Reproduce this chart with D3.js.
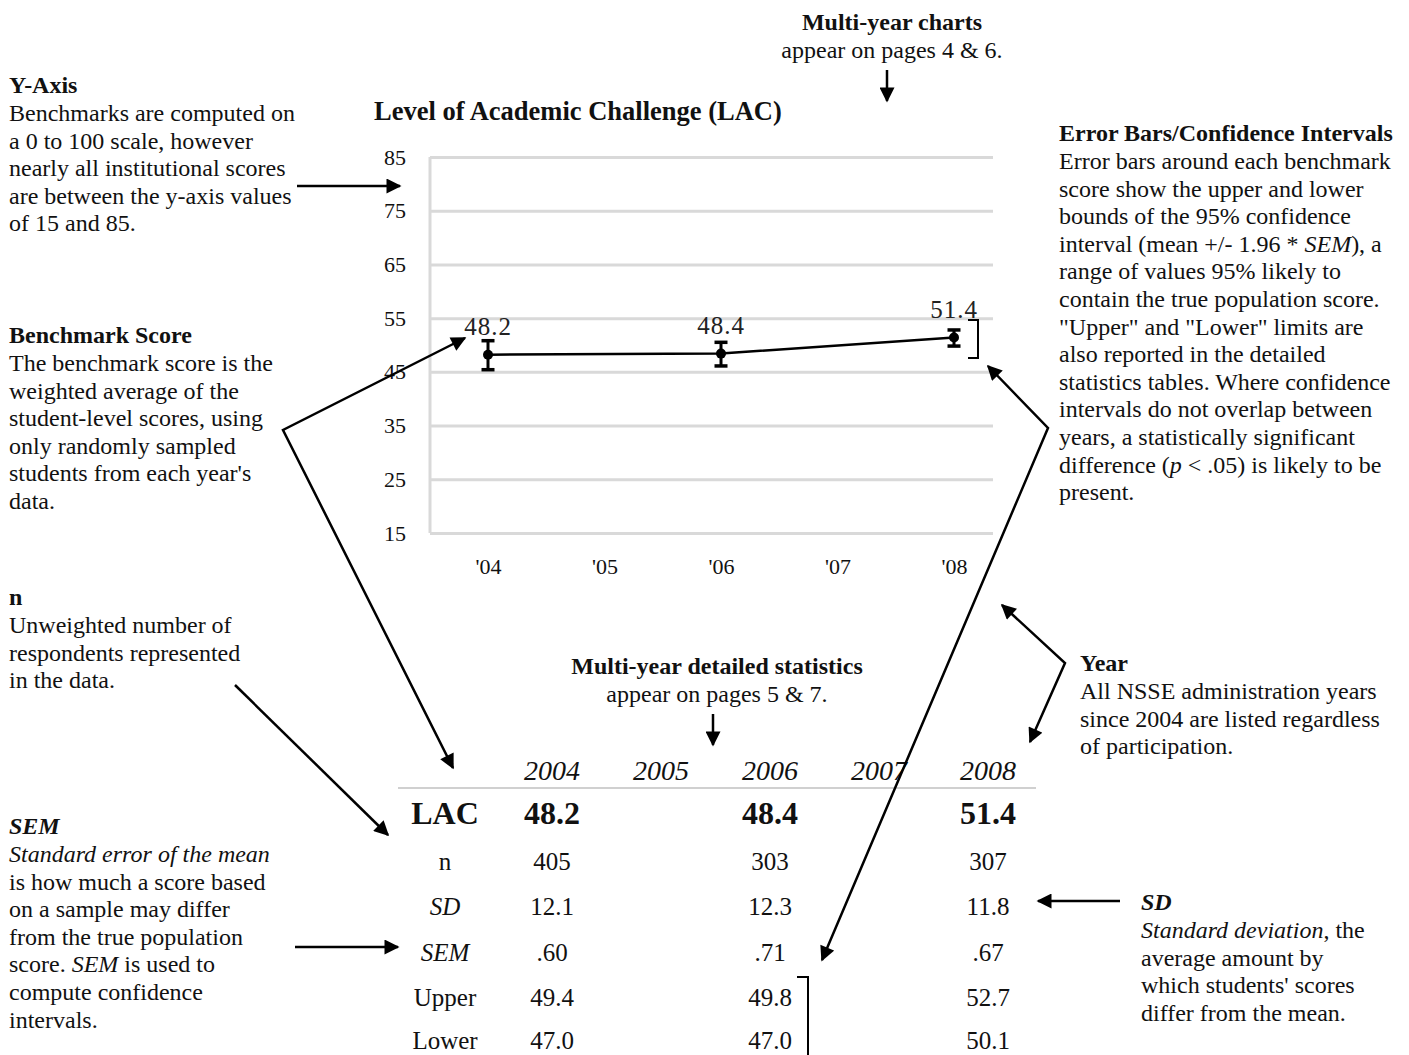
<!DOCTYPE html>
<html>
<head>
<meta charset="utf-8">
<script src="https://cdn.jsdelivr.net/npm/d3@7"></script>
<style>
    body { margin: 0; background: #fff; }
    svg { font-family: "Liberation Serif", "Times New Roman", serif; }
</style>
</head>
<body>
<div id="chart"></div>
<script>
// chart data
var chartYears = ["'04", "'05", "'06", "'07", "'08"];
var scoreYears = ["'04", "'06", "'08"];
var scores = [48.2, 48.4, 51.4];
var barUpper = [50.8, 50.5, 52.8];
var barLower = [45.4, 46.1, 49.8];
var yTicks = [15, 25, 35, 45, 55, 65, 75, 85];

// detailed statistics table
var tableYears = ["2004", "2005", "2006", "2007", "2008"];
var lacRow = [48.2, null, 48.4, null, 51.4];
var nRow = [405, null, 303, null, 307];
var sdRow = [12.1, null, 12.3, null, 11.8];
var semRow = [0.60, null, 0.71, null, 0.67];
var upperRow = [49.4, null, 49.8, null, 52.7];
var lowerRow = [47.0, null, 47.0, null, 50.1];

var W = 1409, H = 1055;
var svg = d3.select("#chart").append("svg")
    .attr("width", W)
    .attr("height", H);

var defs = svg.append("defs");
defs.append("marker")
    .attr("id", "arrow")
    .attr("viewBox", "0 0 10 10")
    .attr("refX", 9)
    .attr("refY", 5)
    .attr("markerUnits", "userSpaceOnUse")
    .attr("markerWidth", 17)
    .attr("markerHeight", 15)
    .attr("orient", "auto")
    .append("path")
    .attr("d", "M0,0 L10,5 L0,10 z")
    .attr("fill", "#000");
defs.append("marker")
    .attr("id", "arrowStart")
    .attr("viewBox", "0 0 10 10")
    .attr("refX", 1)
    .attr("refY", 5)
    .attr("markerUnits", "userSpaceOnUse")
    .attr("markerWidth", 17)
    .attr("markerHeight", 15)
    .attr("orient", "auto")
    .append("path")
    .attr("d", "M10,0 L0,5 L10,10 z")
    .attr("fill", "#000");

// ---- the chart ----
var margin = {top: 157, left: 430};
var width = 563, height = 376;
var g = svg.append("g").attr("transform", "translate(" + margin.left + "," + margin.top + ")");

g.append("text")
    .attr("x", -56)
    .attr("y", -46)
    .attr("dy", "0.35em")
    .attr("font-size", 26.5)
    .attr("font-weight", "bold")
    .attr("fill", "#111")
    .text("Level of Academic Challenge (LAC)");

var y = d3.scaleLinear().domain([15, 85]).range([height, 0]);
var x = d3.scalePoint().domain(chartYears).range([58, 524]);

var yAxis = g.append("g")
    .call(d3.axisLeft(y).tickValues(yTicks).tickSize(-width).tickPadding(24));
yAxis.select(".domain").remove();
yAxis.selectAll("line").attr("stroke", "#d9d9d9").attr("stroke-width", 3);
yAxis.selectAll("text").attr("font-size", 22).attr("font-family", "Liberation Serif").attr("fill", "#111");

g.append("line")
    .attr("x1", 0).attr("x2", 0)
    .attr("y1", 0).attr("y2", height)
    .attr("stroke", "#d9d9d9").attr("stroke-width", 3);

var xAxis = g.append("g")
    .attr("transform", "translate(0," + height + ")")
    .call(d3.axisBottom(x).tickSize(0).tickPadding(25));
xAxis.select(".domain").remove();
xAxis.selectAll("text").attr("font-size", 22).attr("font-family", "Liberation Serif").attr("fill", "#111");

var pts = scoreYears.map(function(d, i) {
    return {year: d, value: scores[i], hi: barUpper[i], lo: barLower[i]};
});

g.append("path")
    .datum(pts)
    .attr("fill", "none")
    .attr("stroke", "#000")
    .attr("stroke-width", 2.5)
    .attr("d", d3.line()
        .x(function(d) { return x(d.year); })
        .y(function(d) { return y(d.value); }));

var eb = g.selectAll(".errbar").data(pts).enter().append("g").attr("class", "errbar");
eb.append("line")
    .attr("x1", function(d) { return x(d.year); })
    .attr("x2", function(d) { return x(d.year); })
    .attr("y1", function(d) { return y(d.hi); })
    .attr("y2", function(d) { return y(d.lo); })
    .attr("stroke", "#000").attr("stroke-width", 3);
["hi", "lo"].forEach(function(k) {
    eb.append("line")
        .attr("x1", function(d) { return x(d.year) - 6.5; })
        .attr("x2", function(d) { return x(d.year) + 6.5; })
        .attr("y1", function(d) { return y(d[k]); })
        .attr("y2", function(d) { return y(d[k]); })
        .attr("stroke", "#000").attr("stroke-width", 3.5);
});
eb.append("circle")
    .attr("cx", function(d) { return x(d.year); })
    .attr("cy", function(d) { return y(d.value); })
    .attr("r", 5)
    .attr("fill", "#000");
eb.append("text")
    .attr("x", function(d) { return x(d.year); })
    .attr("y", function(d) { return y(d.value) - 28; })
    .attr("dy", "0.35em")
    .attr("text-anchor", "middle")
    .attr("font-size", 25)
    .attr("letter-spacing", 1)
    .attr("fill", "#222")
    .text(function(d) { return d3.format(".1f")(d.value); });

// bracket beside the '08 error bar
var last = pts[pts.length - 1];
var bx = x(last.year) + 14;
g.append("path")
    .attr("d", "M" + bx + "," + (y(last.hi) - 10) + " H" + (bx + 10) + " V" + (y(last.lo) + 12) + " H" + bx)
    .attr("fill", "none").attr("stroke", "#000").attr("stroke-width", 2);

// ---- the table ----
var tx = d3.scalePoint().domain(tableYears).range([552, 988]);
var labelX = 445;

svg.append("g").selectAll("text")
    .data(tableYears).enter().append("text")
    .attr("x", function(d) { return tx(d); })
    .attr("y", 770)
    .attr("dy", "0.35em")
    .attr("text-anchor", "middle")
    .attr("font-size", 28)
    .attr("font-style", "italic")
    .attr("fill", "#111")
    .text(function(d) { return d; });

svg.append("line")
    .attr("x1", 398).attr("x2", 1036)
    .attr("y1", 788).attr("y2", 788)
    .attr("stroke", "#d0d0d0").attr("stroke-width", 2);

var noZero = function(v) { return d3.format(".2f")(v).replace(/^0/, ""); };
var rows = [
    {label: "LAC", values: lacRow, fmt: d3.format(".1f"), y: 813, size: 32, bold: true},
    {label: "n", values: nRow, fmt: d3.format("d"), y: 861, size: 25},
    {label: "SD", values: sdRow, fmt: d3.format(".1f"), y: 906, size: 25, italic: true},
    {label: "SEM", values: semRow, fmt: noZero, y: 952, size: 25, italic: true},
    {label: "Upper", values: upperRow, fmt: d3.format(".1f"), y: 997, size: 25},
    {label: "Lower", values: lowerRow, fmt: d3.format(".1f"), y: 1040, size: 25}
];

rows.forEach(function(r) {
    var row = svg.append("g")
        .attr("font-size", r.size)
        .attr("font-weight", r.bold ? "bold" : "normal")
        .attr("fill", "#111");
    row.append("text")
        .attr("x", labelX).attr("y", r.y).attr("dy", "0.35em")
        .attr("text-anchor", "middle")
        .attr("font-style", r.italic ? "italic" : "normal")
        .text(r.label);
    row.selectAll(".v")
        .data(r.values.map(function(v, i) { return {v: v, year: tableYears[i]}; })
            .filter(function(d) { return d.v !== null; }))
        .enter().append("text")
        .attr("x", function(d) { return tx(d.year); })
        .attr("y", r.y).attr("dy", "0.35em")
        .attr("text-anchor", "middle")
        .text(function(d) { return r.fmt(d.v); });
});

// bracket beside the 2006 upper / lower values
svg.append("path")
    .attr("d", "M797,977 H808 V1060")
    .attr("fill", "none").attr("stroke", "#000").attr("stroke-width", 2);

// ---- annotation texts ----
// "_" toggles italic, a leading "#" makes the line bold
function textBlock(x, y, lines, anchor) {
    var lh = 27.6;
    lines.forEach(function(line, i) {
        var bold = line.charAt(0) === "#";
        if (bold) line = line.slice(1);
        var t = svg.append("text")
            .attr("x", x)
            .attr("y", y + i * lh)
            .attr("dy", "0.35em")
            .attr("font-size", 24)
            .attr("font-weight", bold ? "bold" : "normal")
            .attr("text-anchor", anchor || "start")
            .attr("fill", "#111");
        line.split("_").forEach(function(part, j) {
            if (part === "") return;
            t.append("tspan")
                .attr("font-style", j % 2 ? "italic" : "normal")
                .text(part);
        });
    });
}

textBlock(9, 85, [
    "#Y-Axis",
    "Benchmarks are computed on",
    "a 0 to 100 scale, however",
    "nearly all institutional scores",
    "are between the y-axis values",
    "of 15 and 85."
]);
textBlock(9, 335, [
    "#Benchmark Score",
    "The benchmark score is the",
    "weighted average of the",
    "student-level scores, using",
    "only randomly sampled",
    "students from each year's",
    "data."
]);
textBlock(9, 597, [
    "#n",
    "Unweighted number of",
    "respondents represented",
    "in the data."
]);
textBlock(9, 826, [
    "#_SEM_",
    "_Standard error of the mean_",
    "is how much a score based",
    "on a sample may differ",
    "from the true population",
    "score. _SEM_ is used to",
    "compute confidence",
    "intervals."
]);
textBlock(1059, 133, [
    "#Error Bars/Confidence Intervals",
    "Error bars around each benchmark",
    "score show the upper and lower",
    "bounds of the 95% confidence",
    "interval (mean +/- 1.96 * _SEM_), a",
    "range of values 95% likely to",
    "contain the true population score.",
    "\"Upper\" and \"Lower\" limits are",
    "also reported in the detailed",
    "statistics tables. Where confidence",
    "intervals do not overlap between",
    "years, a statistically significant",
    "difference (_p_ < .05) is likely to be",
    "present."
]);
textBlock(1080, 663, [
    "#Year",
    "All NSSE administration years",
    "since 2004 are listed regardless",
    "of participation."
]);
textBlock(1141, 902, [
    "#_SD_",
    "_Standard deviation_, the",
    "average amount by",
    "which students' scores",
    "differ from the mean."
]);
textBlock(892, 22, [
    "#Multi-year charts",
    "appear on pages 4 & 6."
], "middle");
textBlock(717, 666, [
    "#Multi-year detailed statistics",
    "appear on pages 5 & 7."
], "middle");

// ---- arrows ----
function arrow(points, both) {
    svg.append("path")
        .attr("d", d3.line()(points))
        .attr("fill", "none")
        .attr("stroke", "#000")
        .attr("stroke-width", 2.5)
        .attr("marker-end", "url(#arrow)")
        .attr("marker-start", both ? "url(#arrowStart)" : null);
}

arrow([[297, 186], [400, 186]]);
arrow([[887, 70], [887, 101]]);
arrow([[713, 714], [713, 745]]);
arrow([[465, 338], [283, 430], [453, 768]], true);
arrow([[235, 685], [388, 835]]);
arrow([[295, 947], [398, 947]]);
arrow([[988, 366], [1048, 428], [822, 960]], true);
arrow([[1002, 605], [1065, 663], [1030, 742]], true);
arrow([[1120, 901], [1038, 901]]);
</script>
</body>
</html>
